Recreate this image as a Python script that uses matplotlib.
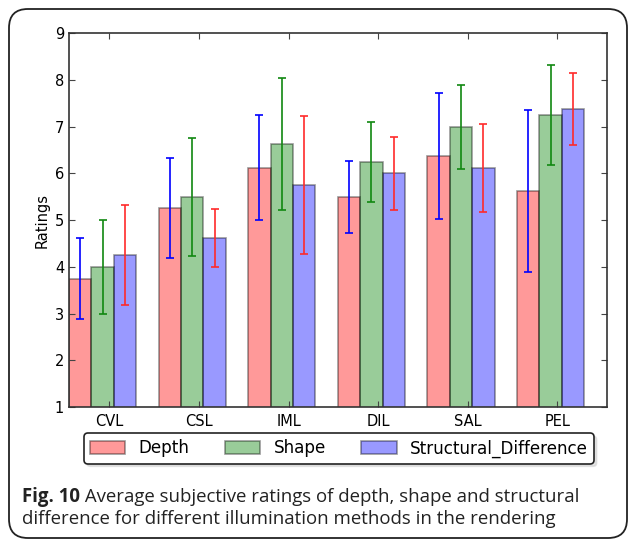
import matplotlib
matplotlib.use("Agg")
import matplotlib.pyplot as plt
from matplotlib.patches import FancyBboxPatch
import numpy as np

categories = ["CVL", "CSL", "IML", "DIL", "SAL", "PEL"]
depth = [3.75, 5.25, 6.125, 5.5, 6.375, 5.625]
depth_err = [0.87, 1.07, 1.12, 0.77, 1.34, 1.73]
shape = [4.0, 5.5, 6.625, 6.25, 7.0, 7.25]
shape_err = [1.0, 1.26, 1.41, 0.86, 0.9, 1.07]
struct = [4.25, 4.625, 5.75, 6.0, 6.125, 7.375]
struct_err = [1.07, 0.62, 1.47, 0.78, 0.94, 0.77]
series_names = ["Depth", "Shape", "Structural_Difference"]
caption_bold = "Fig. 10"
caption_rest = " Average subjective ratings of depth, shape and structural"
caption_line2 = "difference for different illumination methods in the rendering"

fig = plt.figure(figsize=(6.3, 5.39), dpi=100)
ax = fig.add_axes([69/630, 1-407/539, (606.7-69)/630, (407-33.3)/539])

idx = np.arange(len(categories))
w = 0.25
bar_colors = ["#ff0000", "#008000", "#0000ff"]
err_colors = ["#0000ff", "#118811", "#ff2a2a"]
data = [(depth, depth_err), (shape, shape_err), (struct, struct_err)]
handles = []
for k, (vals, errs) in enumerate(data):
    b = ax.bar(idx + k*w, vals, w, align="edge", color=bar_colors[k], alpha=0.4,
               edgecolor="black", linewidth=1.2, label=series_names[k])
    ax.errorbar(idx + k*w + w/2, vals, yerr=errs, fmt="none", ecolor=err_colors[k],
                elinewidth=1.2, capsize=3, capthick=1.2)
    handles.append(b)

ax.set_xlim(0, 6)
ax.set_ylim(1, 9)
ax.set_xticks(idx + 0.45)
ax.set_xticklabels(categories, fontsize=10.5)
ax.set_yticks(range(1, 10))
ax.tick_params(axis="both", direction="in", top=True, right=True, length=4,
               labelsize=10.5, color="#444444")
ax.tick_params(axis="x", pad=5)
ax.set_ylabel("Ratings", fontsize=10.5)
for s in ax.spines.values():
    s.set_linewidth(1.2)
    s.set_color("#333333")

leg = fig.legend(handles=handles, labels=series_names, loc="center",
                 bbox_to_anchor=(339/630, 1-448.5/539), ncol=3, fontsize=12.1,
                 fancybox=True, shadow={"color": "0.75", "alpha": 0.4},
                 frameon=True, handlelength=2.1, handleheight=0.75,
                 columnspacing=2.1, handletextpad=0.8, borderpad=0.35,
                 borderaxespad=0)
leg.get_frame().set_edgecolor("#222222")
leg.get_frame().set_linewidth(1.2)
leg.get_frame().set_alpha(1)

# outer rounded border
border = FancyBboxPatch((9/630, 1/539), (627-9)/630, (530-1)/539,
                        boxstyle="round,pad=0,rounding_size=0.03",
                        transform=fig.transFigure, fill=False,
                        edgecolor="#222222", linewidth=1.3, clip_on=False,
                        mutation_aspect=630/539)
fig.patches.append(border)

fs = 13.4
t = fig.text(22/630, 1-502/539, caption_bold, fontsize=fs, fontweight="bold",
             family="Open Sans", color="#222222", va="baseline")
fig.canvas.draw()
bb = t.get_window_extent()
fig.text(bb.x1/630, 1-502/539, caption_rest, fontsize=fs, family="Open Sans",
         color="#222222", va="baseline")
fig.text(22/630, 1-524/539, caption_line2, fontsize=fs, family="Open Sans",
         color="#222222", va="baseline")

fig.savefig("out.png", dpi=100)
